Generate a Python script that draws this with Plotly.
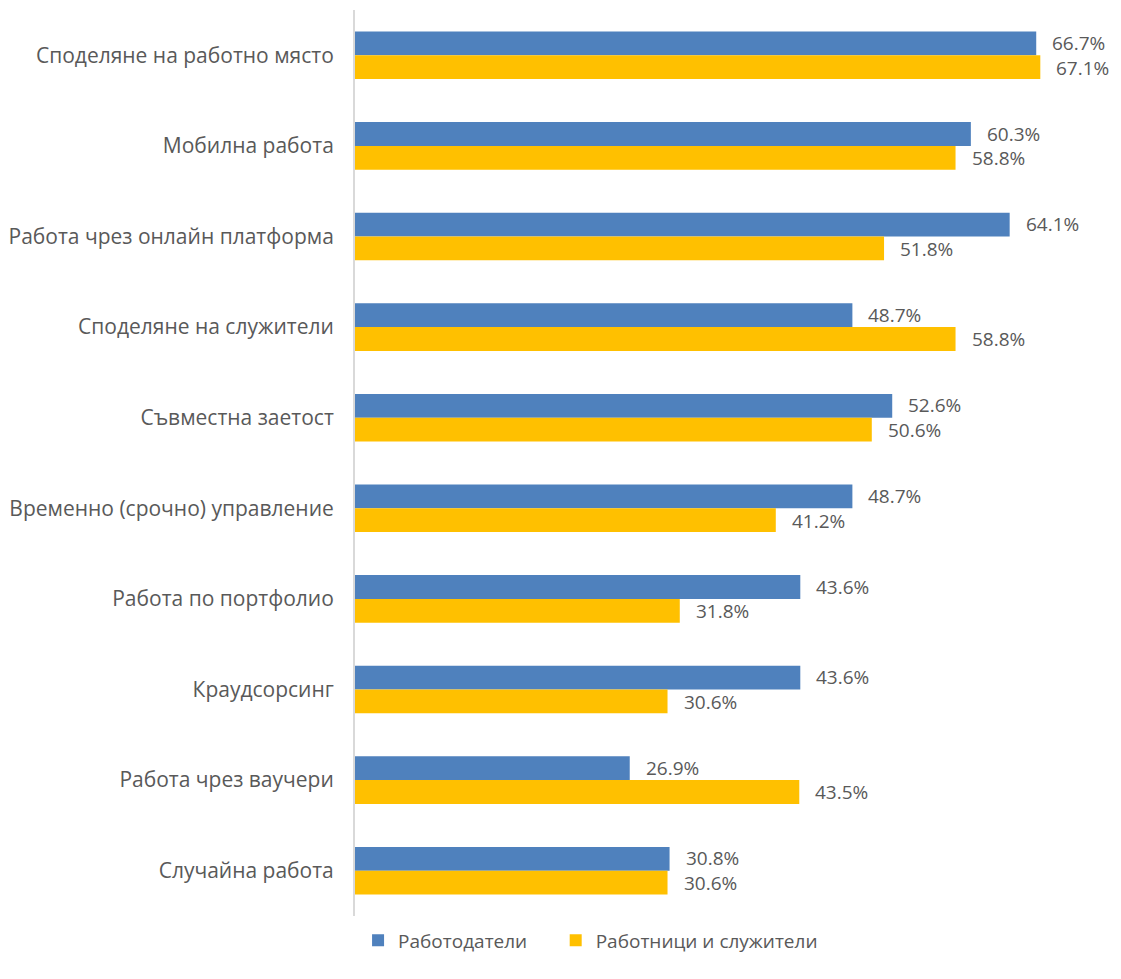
import plotly.graph_objects as go

categories = [
    "Споделяне на работно място",
    "Мобилна работа",
    "Работа чрез онлайн платформа",
    "Споделяне на служители",
    "Съвместна заетост",
    "Временно (срочно) управление",
    "Работа по портфолио",
    "Краудсорсинг",
    "Работа чрез ваучери",
    "Случайна работа",
]
employers = [66.7, 60.3, 64.1, 48.7, 52.6, 48.7, 43.6, 43.6, 26.9, 30.8]
workers = [67.1, 58.8, 51.8, 58.8, 50.6, 41.2, 31.8, 30.6, 43.5, 30.6]
series_names = ["Работодатели", "Работници и служители"]

BLUE = "#4F81BD"
GOLD = "#FFC000"
TEXT = "#595959"
FONT = "Open Sans"

fig = go.Figure()
fig.add_trace(go.Bar(y=categories, x=employers, orientation="h", name=series_names[0],
                     marker=dict(color=BLUE, line=dict(width=0)), offsetgroup="a",
                     legend="legend", showlegend=True))
fig.add_trace(go.Bar(y=categories, x=workers, orientation="h", name=series_names[1],
                     marker=dict(color=GOLD, line=dict(width=0)), offsetgroup="b",
                     legend="legend2", showlegend=True))

# value labels just past the bar ends
annotations = []
for i, cat in enumerate(categories):
    for val, dy in ((employers[i], -0.135), (workers[i], 0.135)):
        annotations.append(dict(
            x=val, y=i + dy, xref="x", yref="y", text=f"{val:.1f}%",
            showarrow=False, xanchor="left", yanchor="middle", xshift=14,
            font=dict(family=FONT, size=19, color=TEXT)))

legend_style = dict(orientation="h", xanchor="left", y=-0.006, yanchor="top",
                    font=dict(family=FONT, size=19, color=TEXT), itemwidth=30,
                    visible=True)

fig.update_layout(
    width=1121, height=979,
    margin=dict(l=355, r=0, t=10, b=63),
    plot_bgcolor="white", paper_bgcolor="white",
    showlegend=True,
    barmode="group", bargap=0.475, bargroupgap=0,
    font=dict(family=FONT, size=20, color=TEXT),
    xaxis=dict(range=[0, 75], showgrid=False, showticklabels=False, zeroline=False,
               showline=False, ticks=""),
    yaxis=dict(type="category", autorange="reversed", showgrid=False, zeroline=False,
               showline=True, linecolor="#D9D9D9", linewidth=2, ticks="",
               ticklabelstandoff=15, tickfont=dict(family=FONT, size=21, color=TEXT)),
    legend=dict(x=0.004, **legend_style),
    legend2=dict(x=0.262, **legend_style),
    annotations=annotations,
)

fig.write_html("out.html")
